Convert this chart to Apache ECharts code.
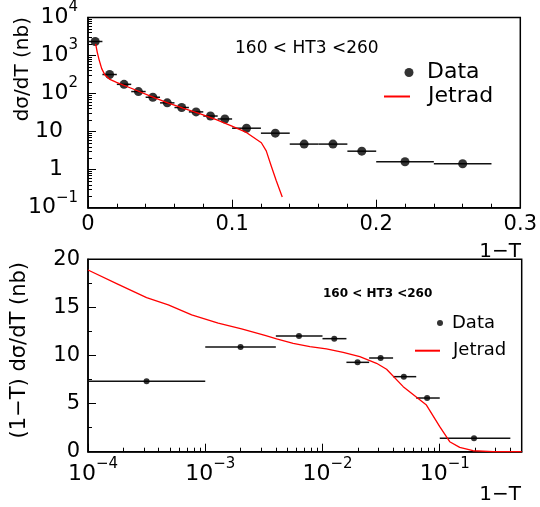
<!DOCTYPE html>
<html>
<head>
<meta charset="utf-8">
<script src="https://cdn.jsdelivr.net/npm/echarts@6/dist/echarts.min.js"></script>
<style>
  html, body { margin: 0; padding: 0; background: #fff; }
  #chart { width: 540px; height: 507px; }
</style>
</head>
<body>
<div id="chart"></div>
<script>
// ---- upper panel: dσ/dT versus 1−T (linear bins) ----
const topCenters = [0.005, 0.015, 0.025, 0.035, 0.045, 0.055, 0.065, 0.075, 0.085, 0.095, 0.11, 0.13, 0.15, 0.17, 0.19, 0.22, 0.26];
const topLow     = [0, 0.01, 0.02, 0.03, 0.04, 0.05, 0.06, 0.07, 0.08, 0.09, 0.10, 0.12, 0.14, 0.16, 0.18, 0.20, 0.24];
const topHigh    = [0.01, 0.02, 0.03, 0.04, 0.05, 0.06, 0.07, 0.08, 0.09, 0.10, 0.12, 0.14, 0.16, 0.18, 0.20, 0.24, 0.28];
const topValues  = [2340, 317, 175, 113, 80, 57, 43, 33, 25.7, 21.5, 12.3, 9.1, 4.7, 4.7, 3.06, 1.61, 1.43];

const jetradTopX = [0.0053, 0.0064, 0.0078, 0.0095, 0.0118, 0.0152, 0.0198, 0.0313, 0.0429, 0.0544, 0.0659, 0.0775, 0.089, 0.0995, 0.1099, 0.1203, 0.1237, 0.1271, 0.1306, 0.1348];
const jetradTopY = [2020, 1233, 750, 454, 306, 235, 197, 132, 87, 59, 41.5, 29.7, 20.7, 14.2, 9.5, 5.1, 3.12, 1.27, 0.52, 0.19];

// ---- lower panel: (1−T) dσ/dT versus 1−T (log bins) ----
const botCenters = [3.16e-4, 0.002, 0.0063, 0.0126, 0.0199, 0.0313, 0.0494, 0.078, 0.196];
const botLow     = [1e-4, 1e-3, 0.004, 0.01, 0.016, 0.025, 0.04, 0.063, 0.1];
const botHigh    = [1e-3, 0.004, 0.01, 0.016, 0.025, 0.04, 0.063, 0.1, 0.4];
const botValues  = [7.32, 10.88, 12.03, 11.75, 9.29, 9.74, 7.8, 5.58, 1.39];

const jetradBotX = [1e-4, 1.81e-4, 3.16e-4, 4.84e-4, 7.66e-4, 1.29e-3, 2.04e-3, 3.23e-3, 4.06e-3, 5.62e-3, 7.81e-3, 0.0108, 0.015, 0.0208, 0.0289, 0.0352, 0.0488, 0.077, 0.1, 0.1216, 0.148, 0.192, 0.285, 0.5];
const jetradBotY = [18.89, 17.4, 16.01, 15.26, 14.22, 13.36, 12.77, 12.08, 11.72, 11.27, 10.92, 10.68, 10.33, 9.88, 9.19, 8.57, 6.76, 4.85, 2.6, 1.04, 0.45, 0.1, 0, 0];

// ---- tick labels ----
const topXLabels = ['0', '0.1', '0.2', '0.3'];
const topYExponents = [-1, 0, 1, 2, 3, 4];
const botXExponents = [-4, -3, -2, -1];
const botYLabels = ['0', '5', '10', '15', '20'];

const FONT = 'DejaVu Sans';
const BLACK = '#000';
const RED = '#ff0000';
const CLEAR = 'rgba(0,0,0,0)';

// minor log ticks (2..9 per decade), expressed as exponents
function minorLogTicks(e0, e1, maxExp) {
  const out = [];
  for (let e = e0; e < e1; e++) {
    for (let k = 2; k <= 9; k++) {
      const v = Math.log10(k) + e;
      if (v <= maxExp) out.push(v);
    }
  }
  return out;
}

function supText(e) {
  return (e < 0 ? '\u2212' : '') + Math.abs(e);
}

function binSegment(params, api) {
  const p0 = api.coord([api.value(0), api.value(2)]);
  const p1 = api.coord([api.value(1), api.value(2)]);
  return {
    type: 'line',
    shape: { x1: p0[0], y1: p0[1], x2: p1[0], y2: p1[1] },
    style: { stroke: '#111', lineWidth: 1.5 }
  };
}

const axisLine = { show: true, onZero: false, lineStyle: { color: BLACK, width: 1.5 } };
const majorTick = { show: true, inside: true, length: 8, lineStyle: { color: BLACK, width: 1 } };
const minorTickStyle = { color: BLACK, width: 1 };

const chart = echarts.init(document.getElementById('chart'), null, { renderer: 'canvas' });

chart.setOption({
  animation: false,
  backgroundColor: '#fff',
  grid: [
    { left: 88, top: 15, width: 433.7, height: 192.7, show: true, borderColor: BLACK, borderWidth: 1.5, containLabel: false },
    { left: 88, top: 259.3, width: 433.7, height: 192.4, show: true, borderColor: BLACK, borderWidth: 1.5, containLabel: false }
  ],
  xAxis: [
    {
      gridIndex: 0, type: 'value', min: 0, max: 0.3, interval: 0.1,
      axisLine: axisLine, axisTick: majorTick,
      minorTick: { show: true, splitNumber: 5, length: 4, lineStyle: minorTickStyle },
      splitLine: { show: false }, minorSplitLine: { show: false },
      axisLabel: {
        color: BLACK, fontFamily: FONT, fontSize: 21, margin: 6,
        formatter: v => topXLabels[Math.round(v * 10)] || ''
      }
    },
    {
      gridIndex: 1, type: 'log', logBase: 10, min: 1e-4, max: 0.5,
      axisLine: axisLine, axisTick: majorTick,
      splitLine: { show: false },
      axisLabel: {
        color: BLACK, margin: 5, showMaxLabel: false,
        formatter: v => {
          const e = Math.round(Math.log10(v));
          if (Math.abs(Math.log10(v) - e) > 1e-6 || botXExponents.indexOf(e) < 0) return '';
          return '{g|}{b|10}{s|' + supText(e) + '}';
        },
        rich: {
          g: { width: 10 },
          b: { fontFamily: FONT, fontSize: 22, color: BLACK },
          s: { fontFamily: FONT, fontSize: 15, color: BLACK, padding: [0, 0, 21, 0] }
        }
      }
    },
    {
      // minor decade ticks for the lower panel
      gridIndex: 1, type: 'value', min: -4, max: Math.log10(0.5), position: 'bottom',
      axisLine: { show: false }, axisLabel: { show: false }, splitLine: { show: false },
      axisTick: { show: true, inside: true, length: 4, lineStyle: minorTickStyle,
        customValues: minorLogTicks(-4, 0, Math.log10(0.5)) }
    }
  ],
  yAxis: [
    {
      gridIndex: 0, type: 'log', logBase: 10, min: 0.1, max: 10000,
      axisLine: axisLine, axisTick: majorTick,
      splitLine: { show: false },
      axisLabel: {
        color: BLACK, margin: 10,
        formatter: v => {
          const e = Math.round(Math.log10(v));
          if (topYExponents.indexOf(e) < 0) return '';
          if (e === 0) return '{b|1}{g|}';
          if (e === 1) return '{b|10}{g|}';
          return '{b|10}{s|' + supText(e) + '}';
        },
        rich: {
          g: { width: 15 },
          b: { fontFamily: FONT, fontSize: 22, color: BLACK },
          s: { fontFamily: FONT, fontSize: 15, color: BLACK, padding: [0, 0, 20, 0] }
        }
      }
    },
    {
      // minor decade ticks for the upper panel
      gridIndex: 0, type: 'value', min: -1, max: 4, position: 'left',
      axisLine: { show: false }, axisLabel: { show: false }, splitLine: { show: false },
      axisTick: { show: true, inside: true, length: 4, lineStyle: minorTickStyle,
        customValues: minorLogTicks(-1, 4, 4) }
    },
    {
      gridIndex: 1, type: 'value', min: 0, max: 20, interval: 5,
      axisLine: axisLine, axisTick: majorTick,
      minorTick: { show: true, splitNumber: 2, length: 4, lineStyle: minorTickStyle },
      splitLine: { show: false }, minorSplitLine: { show: false },
      axisLabel: {
        color: BLACK, fontFamily: FONT, fontSize: 21, margin: 8,
        formatter: v => botYLabels[Math.round(v / 5)] || ''
      }
    }
  ],
  legend: [
    { data: [{ name: 'Data', icon: 'circle' }], left: 404.5, top: 61.5, itemWidth: 9, itemHeight: 9, padding: 0, selectedMode: false,
      textStyle: { fontFamily: FONT, fontSize: 22, color: BLACK, padding: [0, 0, 0, 8.5] } },
    { data: [{ name: 'Jetrad', itemStyle: { color: CLEAR, borderColor: CLEAR, borderWidth: 0 } }],
      left: 383, top: 85.5, itemWidth: 26, itemHeight: 14, padding: 0, selectedMode: false,
      textStyle: { fontFamily: FONT, fontSize: 22, color: BLACK, padding: [0, 0, 0, 13] } },
    { data: [{ name: 'Data', icon: 'circle' }], left: 437, top: 314, itemWidth: 6, itemHeight: 6, padding: 0, selectedMode: false,
      textStyle: { fontFamily: FONT, fontSize: 18, color: BLACK, padding: [0, 0, 0, 4] } },
    { data: [{ name: 'Jetrad', itemStyle: { color: CLEAR, borderColor: CLEAR, borderWidth: 0 } }],
      left: 414, top: 341.7, itemWidth: 25, itemHeight: 10, padding: 0, selectedMode: false,
      textStyle: { fontFamily: FONT, fontSize: 18, color: BLACK, padding: [0, 0, 0, 8] } }
  ],
  graphic: [
    { type: 'text', x: 23, y: 17, rotation: Math.PI / 2,
      style: { text: 'd\u03c3/dT (nb)', fill: BLACK, font: '20px "DejaVu Sans"', align: 'right', verticalAlign: 'middle' } },
    { type: 'text', x: 20, y: 262, rotation: Math.PI / 2,
      style: { text: '(1\u2212T) d\u03c3/dT (nb)', fill: BLACK, font: '21px "DejaVu Sans"', align: 'right', verticalAlign: 'middle' } },
    { type: 'text', x: 521, y: 252,
      style: { text: '1\u2212T', fill: BLACK, font: '20px "DejaVu Sans"', align: 'right', verticalAlign: 'middle' } },
    { type: 'text', x: 521, y: 495,
      style: { text: '1\u2212T', fill: BLACK, font: '20px "DejaVu Sans"', align: 'right', verticalAlign: 'middle' } },
    { type: 'text', x: 235, y: 49,
      style: { text: '160 < HT3 <260', fill: BLACK, font: '17px "DejaVu Sans"', align: 'left', verticalAlign: 'middle' } },
    { type: 'text', x: 323, y: 294,
      style: { text: '160 < HT3 <260', fill: BLACK, font: 'bold 12px "DejaVu Sans"', align: 'left', verticalAlign: 'middle' } }
  ],
  series: [
    {
      name: 'Data', type: 'scatter', xAxisIndex: 0, yAxisIndex: 0,
      symbol: 'circle', symbolSize: 9, itemStyle: { color: BLACK }, z: 4,
      data: topCenters.map((x, i) => [x, topValues[i]])
    },
    {
      name: 'topBins', type: 'custom', xAxisIndex: 0, yAxisIndex: 0,
      renderItem: binSegment, encode: { x: [0, 1], y: 2 }, z: 3,
      data: topLow.map((lo, i) => [lo, topHigh[i], topValues[i]])
    },
    {
      name: 'Jetrad', type: 'line', xAxisIndex: 0, yAxisIndex: 0,
      symbol: 'none', smooth: false, lineStyle: { color: RED, width: 1.3 }, itemStyle: { color: RED }, z: 5,
      data: jetradTopX.map((x, i) => [x, jetradTopY[i]])
    },
    {
      name: 'Data', type: 'scatter', xAxisIndex: 1, yAxisIndex: 2,
      symbol: 'circle', symbolSize: 6, itemStyle: { color: BLACK }, z: 4,
      data: botCenters.map((x, i) => [x, botValues[i]])
    },
    {
      name: 'botBins', type: 'custom', xAxisIndex: 1, yAxisIndex: 2,
      renderItem: binSegment, encode: { x: [0, 1], y: 2 }, z: 3,
      data: botLow.map((lo, i) => [lo, botHigh[i], botValues[i]])
    },
    {
      name: 'Jetrad', type: 'line', xAxisIndex: 1, yAxisIndex: 2,
      symbol: 'none', smooth: false, clip: false, lineStyle: { color: RED, width: 1.3 }, itemStyle: { color: RED }, z: 5,
      data: jetradBotX.map((x, i) => [x, jetradBotY[i]])
    }
  ]
});
</script>
</body>
</html>
